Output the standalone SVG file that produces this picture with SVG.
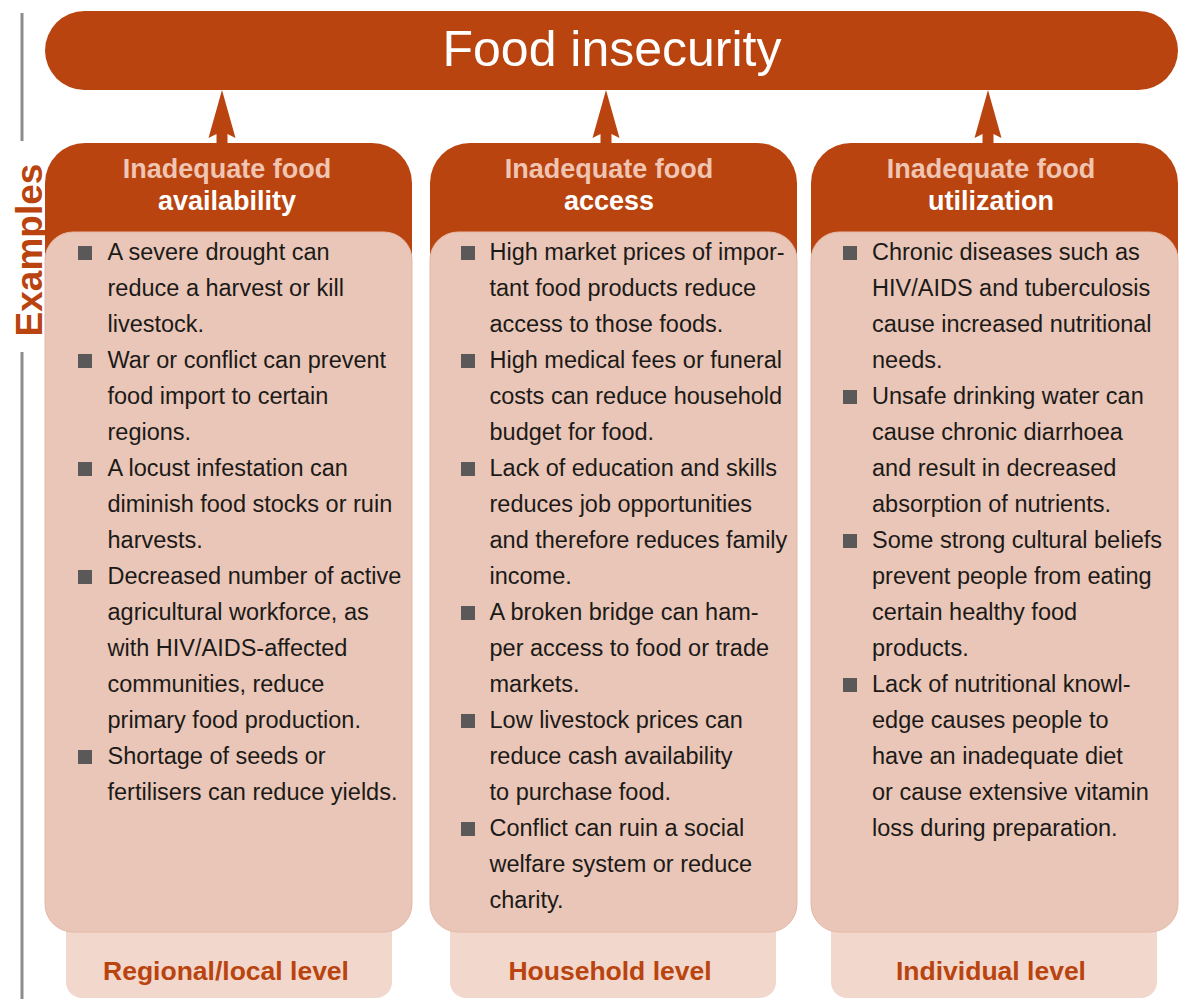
<svg xmlns="http://www.w3.org/2000/svg" width="1184" height="999" viewBox="0 0 1184 999">
<style>
.dark{fill:#b9440f}
.body{fill:#e9c6b7;stroke:#e4b8a6;stroke-width:1}
.tab{fill:#f2d7cc}
.h1{font-family:"Liberation Sans",Arial,sans-serif;font-weight:bold;font-size:27px;fill:#f0c5b3;text-anchor:middle}
.h2{font-family:"Liberation Sans",Arial,sans-serif;font-weight:bold;font-size:27px;fill:#ffffff;text-anchor:middle}
.t{font-family:"Liberation Sans",Arial,sans-serif;font-size:23.5px;fill:#1c1a18}
.lvl{font-family:"Liberation Sans",Arial,sans-serif;font-weight:bold;font-size:26.5px;fill:#b9440f;text-anchor:middle}
.b{fill:#5a5858}
.gl{stroke:#8c8c8c;stroke-width:3;fill:none}
</style>
<defs>
<polygon id="arr" points="0,90 13.5,138 5.5,134 5.5,146 -5.5,146 -5.5,134 -13.5,138" fill="#b9440f"/>
<rect id="bul" width="14" height="14"/>
</defs>

<g id="side-label">
<line class="gl" x1="22" y1="13" x2="22" y2="141"/>
<line class="gl" x1="22" y1="352" x2="22" y2="999"/>
<text transform="translate(42,250) rotate(-90)" text-anchor="middle" font-family="Liberation Sans,Arial,sans-serif" font-weight="bold" font-size="37" fill="#b9440f">Examples</text>
</g>

<g id="food-insecurity">
<rect class="dark" x="45" y="11" width="1133" height="79" rx="39.5"/>
<text x="612" y="66" text-anchor="middle" font-family="Liberation Sans,Arial,sans-serif" font-size="50" fill="#ffffff">Food insecurity</text>
</g>

<g id="connectors">
<use href="#arr" x="222"/>
<use href="#arr" x="606"/>
<use href="#arr" x="988"/>
</g>

<g id="availability">
<rect class="tab" x="66" y="880" width="326" height="118" rx="16"/>
<rect class="dark" x="45" y="143" width="367" height="200" rx="40"/>
<rect class="body" x="45" y="232" width="367" height="700" rx="28"/>
<text class="h1" x="227" y="178">Inadequate food</text>
<text class="h2" x="227" y="210">availability</text>
<g class="b">
<use href="#bul" x="78" y="246"/>
<use href="#bul" x="78" y="354"/>
<use href="#bul" x="78" y="462"/>
<use href="#bul" x="78" y="570"/>
<use href="#bul" x="78" y="750"/>
</g>
<g class="t">
<text x="107.5" y="260">A severe drought can</text>
<text x="107.5" y="296">reduce a harvest or kill</text>
<text x="107.5" y="332">livestock.</text>
<text x="107.5" y="368">War or conflict can prevent</text>
<text x="107.5" y="404">food import to certain</text>
<text x="107.5" y="440">regions.</text>
<text x="107.5" y="476">A locust infestation can</text>
<text x="107.5" y="512">diminish food stocks or ruin</text>
<text x="107.5" y="548">harvests.</text>
<text x="107.5" y="584">Decreased number of active</text>
<text x="107.5" y="620">agricultural workforce, as</text>
<text x="107.5" y="656">with HIV/AIDS-affected</text>
<text x="107.5" y="692">communities, reduce</text>
<text x="107.5" y="728">primary food production.</text>
<text x="107.5" y="764">Shortage of seeds or</text>
<text x="107.5" y="800">fertilisers can reduce yields.</text>
</g>
<text class="lvl" x="226" y="980">Regional/local level</text>
</g>

<g id="access">
<rect class="tab" x="450" y="880" width="326" height="118" rx="16"/>
<rect class="dark" x="430" y="143" width="367" height="200" rx="40"/>
<rect class="body" x="430" y="232" width="367" height="700" rx="28"/>
<text class="h1" x="609" y="178">Inadequate food</text>
<text class="h2" x="609" y="210">access</text>
<g class="b">
<use href="#bul" x="461" y="246"/>
<use href="#bul" x="461" y="354"/>
<use href="#bul" x="461" y="462"/>
<use href="#bul" x="461" y="606"/>
<use href="#bul" x="461" y="714"/>
<use href="#bul" x="461" y="822"/>
</g>
<g class="t">
<text x="489.5" y="260">High market prices of impor-</text>
<text x="489.5" y="296">tant food products reduce</text>
<text x="489.5" y="332">access to those foods.</text>
<text x="489.5" y="368">High medical fees or funeral</text>
<text x="489.5" y="404">costs can reduce household</text>
<text x="489.5" y="440">budget for food.</text>
<text x="489.5" y="476">Lack of education and skills</text>
<text x="489.5" y="512">reduces job opportunities</text>
<text x="489.5" y="548">and therefore reduces family</text>
<text x="489.5" y="584">income.</text>
<text x="489.5" y="620">A broken bridge can ham-</text>
<text x="489.5" y="656">per access to food or trade</text>
<text x="489.5" y="692">markets.</text>
<text x="489.5" y="728">Low livestock prices can</text>
<text x="489.5" y="764">reduce cash availability</text>
<text x="489.5" y="800">to purchase food.</text>
<text x="489.5" y="836">Conflict can ruin a social</text>
<text x="489.5" y="872">welfare system or reduce</text>
<text x="489.5" y="908">charity.</text>
</g>
<text class="lvl" x="610" y="980">Household level</text>
</g>

<g id="utilization">
<rect class="tab" x="831" y="880" width="326" height="118" rx="16"/>
<rect class="dark" x="811" y="143" width="367" height="200" rx="40"/>
<rect class="body" x="811" y="232" width="367" height="700" rx="28"/>
<text class="h1" x="991" y="178">Inadequate food</text>
<text class="h2" x="991" y="210">utilization</text>
<g class="b">
<use href="#bul" x="843" y="246"/>
<use href="#bul" x="843" y="390"/>
<use href="#bul" x="843" y="534"/>
<use href="#bul" x="843" y="678"/>
</g>
<g class="t">
<text x="872" y="260">Chronic diseases such as</text>
<text x="872" y="296">HIV/AIDS and tuberculosis</text>
<text x="872" y="332">cause increased nutritional</text>
<text x="872" y="368">needs.</text>
<text x="872" y="404">Unsafe drinking water can</text>
<text x="872" y="440">cause chronic diarrhoea</text>
<text x="872" y="476">and result in decreased</text>
<text x="872" y="512">absorption of nutrients.</text>
<text x="872" y="548">Some strong cultural beliefs</text>
<text x="872" y="584">prevent people from eating</text>
<text x="872" y="620">certain healthy food</text>
<text x="872" y="656">products.</text>
<text x="872" y="692">Lack of nutritional knowl-</text>
<text x="872" y="728">edge causes people to</text>
<text x="872" y="764">have an inadequate diet</text>
<text x="872" y="800">or cause extensive vitamin</text>
<text x="872" y="836">loss during preparation.</text>
</g>
<text class="lvl" x="991" y="980">Individual level</text>
</g>
</svg>
